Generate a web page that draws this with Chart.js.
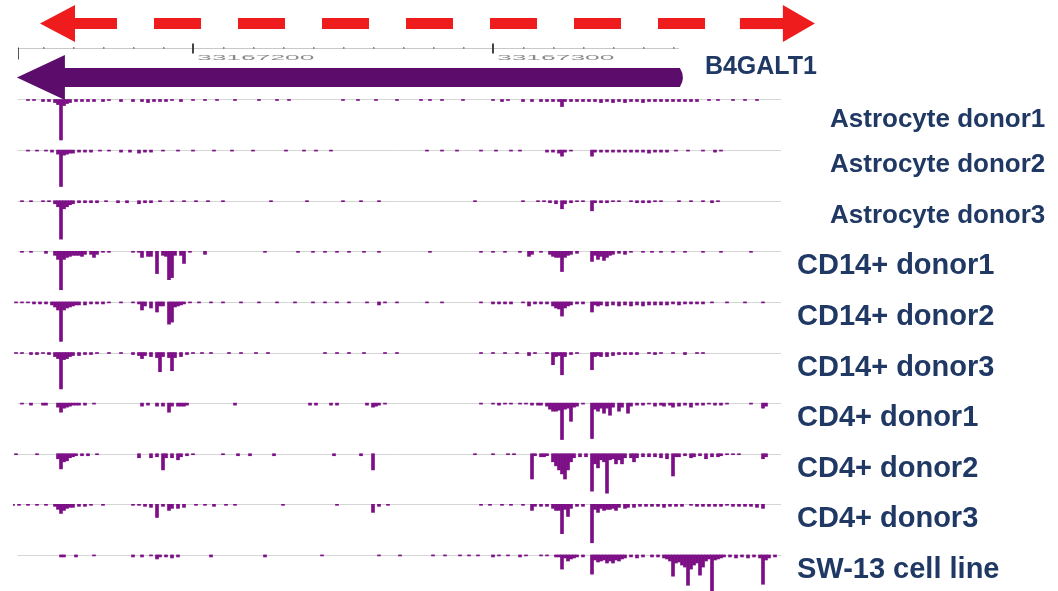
<!DOCTYPE html>
<html>
<head>
<meta charset="utf-8">
<script src="https://cdn.jsdelivr.net/npm/chart.js@4.4.0/dist/chart.umd.min.js"></script>
<style>
  html, body { margin: 0; padding: 0; background: #fff; }
  #wrap { width: 1058px; height: 591px; }
</style>
</head>
<body>
<div id="wrap"><canvas id="tracks" width="1058" height="591"></canvas></div>
<script>
// positions are bp offsets from chr9:33,167,000, signal is read depth (50 = one track height)
const trackNames = ['Astrocyte donor1', 'Astrocyte donor2', 'Astrocyte donor3',
  'CD14+ donor1', 'CD14+ donor2', 'CD14+ donor3',
  'CD4+ donor1', 'CD4+ donor2', 'CD4+ donor3', 'SW-13 cell line'];

const astro1 = [[145,1],[147,1],[150,2],[152,2],[154,3],[155,5],[156,40],[157,6],[158,4],[159,3],[161,2],[163,2],[165,2],[167,2],[170,2],[172,1],[176,2],[180,2],[183,2],[185,3],[187,2],[189,2],[191,2],[193,1],[196,2],[200,1],[204,1],[208,1],[214,1],[222,1],[228,1],[232,1],[250,1],[255,1],[261,1],[268,1],[276,1],[279,1],[283,1],[290,1],[300,1],[303,2],[305,1],[310,2],[313,2],[316,2],[318,2],[320,2],[322,2],[323,7],[324,2],[326,2],[328,2],[330,2],[332,2],[334,2],[336,3],[338,2],[340,3],[342,2],[344,3],[346,2],[348,2],[350,3],[352,2],[354,2],[356,2],[358,2],[360,2],[362,2],[364,2],[366,2],[368,2],[372,1],[375,1],[380,1],[384,1],[388,1]];
const astro2 = [[145,1],[148,1],[151,1],[153,2],[155,4],[156,36],[157,5],[158,4],[159,3],[160,3],[162,2],[164,2],[166,2],[169,1],[172,1],[176,2],[179,2],[182,3],[184,2],[186,2],[190,1],[195,1],[200,1],[207,1],[213,1],[220,1],[231,1],[237,1],[241,1],[246,1],[278,1],[283,1],[288,1],[296,1],[301,1],[306,1],[309,1],[318,2],[320,2],[322,3],[323,6],[324,2],[326,1],[333,6],[334,2],[336,2],[338,2],[340,2],[342,2],[344,2],[346,2],[348,2],[350,2],[352,3],[354,2],[356,2],[358,2],[361,1],[365,1],[370,1],[374,2],[376,1]];
const astro3 = [[143,1],[146,1],[150,1],[152,1],[154,3],[155,6],[156,38],[157,8],[158,6],[159,4],[160,3],[162,2],[164,2],[166,2],[168,2],[171,1],[175,2],[178,2],[182,3],[184,2],[186,2],[189,1],[193,1],[197,1],[201,1],[205,1],[210,1],[226,1],[238,1],[250,1],[256,1],[262,1],[294,1],[310,1],[315,1],[317,1],[319,2],[321,3],[323,8],[324,3],[326,2],[328,1],[330,1],[333,10],[334,2],[336,2],[338,2],[340,1],[342,1],[346,1],[348,2],[350,2],[352,2],[354,1],[356,1],[362,1],[366,1],[370,1],[373,2],[375,1]];
const cd14d1 = [[143,1],[146,1],[151,2],[154,4],[155,8],[156,38],[157,8],[158,6],[159,5],[160,4],[161,4],[162,4],[163,5],[164,3],[166,3],[167,6],[168,3],[170,1],[172,1],[180,1],[182,1],[183,6],[185,5],[186,5],[188,22],[190,4],[191,5],[192,28],[193,26],[194,4],[196,4],[197,12],[199,1],[204,3],[224,1],[235,1],[240,1],[244,1],[248,1],[252,1],[257,1],[262,1],[279,1],[296,1],[300,1],[304,1],[309,1],[312,5],[313,3],[316,1],[319,3],[320,5],[321,6],[322,6],[323,20],[324,6],[325,4],[326,3],[328,2],[333,10],[334,4],[335,8],[336,5],[337,9],[338,6],[339,4],[340,3],[342,2],[344,3],[346,1],[350,1],[353,1],[356,1],[360,1],[364,1],[370,1],[376,1],[386,1]];
const cd14d2 = [[141,1],[143,1],[145,1],[147,2],[149,2],[151,2],[153,3],[154,5],[155,8],[156,39],[157,8],[158,6],[159,5],[160,4],[161,3],[162,3],[164,3],[166,2],[168,2],[170,2],[172,1],[176,1],[180,1],[182,2],[183,8],[184,4],[186,6],[188,10],[189,4],[190,4],[192,22],[193,20],[194,5],[195,4],[196,3],[197,2],[199,1],[202,1],[206,1],[210,1],[216,1],[222,1],[228,1],[234,1],[240,1],[244,1],[248,1],[252,1],[258,1],[262,3],[264,1],[268,1],[278,1],[283,1],[296,1],[300,2],[302,2],[304,2],[306,2],[310,1],[312,4],[314,2],[316,2],[318,2],[320,4],[321,6],[322,7],[323,14],[324,6],[325,4],[326,3],[328,2],[330,2],[333,10],[334,3],[335,4],[336,3],[338,4],[340,3],[342,4],[344,3],[346,4],[348,3],[350,4],[352,3],[354,3],[356,3],[358,3],[360,2],[362,3],[364,2],[366,2],[368,2],[370,2],[373,1],[378,1],[384,1],[390,1]];
const cd14d3 = [[141,1],[143,1],[146,2],[148,2],[150,1],[152,2],[154,4],[155,6],[156,36],[157,7],[158,6],[159,4],[160,3],[162,3],[164,2],[166,2],[168,1],[172,1],[176,1],[180,2],[182,3],[183,6],[184,3],[186,4],[188,5],[189,19],[190,4],[192,5],[193,18],[194,5],[196,4],[198,2],[200,1],[203,1],[206,1],[212,1],[216,1],[221,1],[225,1],[244,1],[248,1],[252,1],[257,1],[264,1],[268,1],[296,1],[300,1],[304,1],[308,1],[312,3],[314,1],[318,1],[320,12],[321,4],[322,3],[323,22],[324,4],[326,2],[328,1],[333,17],[334,4],[335,3],[336,4],[338,4],[340,3],[342,2],[344,2],[346,2],[348,2],[352,1],[354,2],[356,1],[360,1],[364,2],[368,1],[370,1]];
const cd4d1 = [[143,1],[146,2],[150,2],[151,2],[155,4],[156,9],[157,5],[158,4],[159,3],[160,2],[161,2],[162,2],[164,2],[167,1],[183,3],[185,2],[188,3],[190,3],[192,9],[193,3],[195,3],[196,3],[197,3],[198,2],[214,2],[239,2],[241,2],[246,2],[248,2],[258,2],[260,4],[261,3],[262,2],[264,1],[296,1],[300,1],[302,2],[304,1],[306,1],[309,1],[311,1],[313,2],[315,2],[316,2],[318,3],[319,6],[320,8],[321,8],[322,7],[323,36],[324,6],[325,5],[326,18],[327,4],[328,3],[330,1],[333,35],[334,6],[335,8],[336,5],[337,10],[338,5],[339,12],[340,4],[342,8],[343,4],[345,10],[346,3],[348,2],[350,2],[352,1],[354,3],[356,2],[357,3],[359,2],[360,4],[362,3],[364,2],[366,4],[368,2],[370,2],[372,1],[374,2],[376,2],[378,1],[386,1],[390,5],[391,3]];
const cd4d2 = [[141,1],[148,1],[155,5],[156,15],[157,8],[158,7],[159,4],[160,3],[161,2],[163,2],[165,2],[168,1],[182,4],[186,4],[188,3],[190,16],[191,4],[193,4],[195,6],[196,3],[198,2],[200,1],[210,1],[215,2],[219,2],[227,2],[247,2],[256,2],[260,16],[294,1],[300,1],[305,1],[307,1],[313,25],[314,2],[316,3],[317,3],[318,2],[320,8],[321,12],[322,16],[323,20],[324,25],[325,16],[326,8],[327,4],[329,3],[331,3],[333,37],[334,10],[335,14],[336,6],[337,8],[338,39],[339,6],[340,5],[341,10],[342,6],[343,10],[344,4],[346,4],[347,8],[348,4],[350,3],[352,3],[354,3],[356,4],[358,5],[360,22],[361,3],[362,3],[364,2],[366,4],[367,3],[369,2],[371,5],[373,3],[375,3],[376,2],[378,1],[380,1],[382,1],[390,5],[391,3]];
const cd4d3 = [[140,1],[142,1],[145,1],[148,1],[151,1],[154,2],[155,5],[156,9],[157,6],[158,4],[159,3],[160,3],[162,2],[164,2],[166,1],[170,1],[180,1],[182,1],[184,2],[186,3],[188,13],[190,2],[192,6],[193,4],[195,4],[197,3],[201,1],[204,1],[207,2],[211,1],[214,1],[230,1],[248,1],[260,8],[262,2],[265,1],[296,1],[299,1],[303,1],[306,1],[310,1],[313,6],[314,2],[316,2],[318,2],[320,4],[321,6],[322,6],[323,29],[324,5],[325,12],[326,4],[328,2],[330,2],[333,38],[334,5],[335,8],[336,4],[337,6],[338,5],[339,5],[340,4],[341,6],[342,3],[344,4],[345,3],[347,3],[349,2],[351,2],[353,2],[355,2],[357,3],[359,2],[361,2],[363,2],[366,1],[368,2],[370,2],[372,2],[374,2],[376,2],[378,1],[380,2],[382,2],[384,2],[386,2],[388,3],[390,4]];
const sw13 = [[156,2],[157,2],[161,2],[167,1],[180,2],[183,2],[186,1],[188,4],[189,2],[191,2],[193,3],[195,2],[206,2],[224,2],[243,1],[262,1],[269,1],[280,1],[284,1],[289,1],[292,1],[295,1],[300,2],[302,1],[305,1],[309,2],[311,1],[316,1],[318,1],[321,2],[322,2],[323,14],[324,3],[325,6],[326,4],[327,3],[328,2],[330,2],[333,19],[334,5],[335,7],[336,6],[337,5],[338,8],[339,6],[340,8],[341,5],[342,6],[343,4],[344,3],[346,2],[348,3],[350,2],[353,2],[355,2],[357,3],[358,4],[359,6],[360,21],[361,8],[362,7],[363,10],[364,12],[365,30],[366,14],[367,10],[368,8],[369,20],[370,12],[371,6],[372,4],[373,36],[374,5],[375,4],[376,3],[377,2],[379,2],[381,3],[383,2],[385,3],[387,2],[389,3],[390,29],[391,5],[392,3],[394,2]];

const tracks = [astro1, astro2, astro3, cd14d1, cd14d2, cd14d3, cd4d1, cd4d2, cd4d3, sw13];
const signalPerTrack = 50;

// ruler and gene model
const rulerMinor = [150, 160, 170, 180, 190, 210, 220, 230, 240, 250, 260, 270, 280, 290, 310, 320, 330, 340, 350, 360];
const rulerMajor = [200, 300];
const rulerLabels = ['33167200', '33167300'];
const rulerSpan = [141.5, 362];
const geneName = 'B4GALT1';
const geneTip = 141.3;      // 5' end (minus strand, arrow points left)
const geneHeadBase = 157.3;
const geneEnd = 363.3;
const strandSpan = [149, 407.3];

const navy = '#1f3864';
const signalColor = '#7c0f86';

const datasets = tracks.map((t, i) => ({
  label: trackNames[i],
  data: t.map(([pos, s]) => ({ x: pos, y: [i, i + s / signalPerTrack] })),
  backgroundColor: signalColor,
  borderWidth: 0,
  grouped: false,
  barThickness: 3
}));

const browserDecor = {
  id: 'browserDecor',
  beforeDatasetsDraw(chart) {
    const { ctx, scales: { x, y } } = chart;
    ctx.save();
    // track baselines
    ctx.strokeStyle = '#d6d6d6';
    ctx.lineWidth = 1;
    tracks.forEach((t, i) => {
      const py = Math.round(y.getPixelForValue(i)) + 0.5;
      ctx.beginPath();
      ctx.moveTo(x.getPixelForValue(141.5), py);
      ctx.lineTo(x.getPixelForValue(396), py);
      ctx.stroke();
    });

    // strand arrow (red, dashed, both ways)
    const sy = y.getPixelForValue(-1.5);
    const l0 = x.getPixelForValue(strandSpan[0]), l1 = l0 + 35;
    const r1 = x.getPixelForValue(strandSpan[1]), r0 = r1 - 32;
    ctx.fillStyle = '#ee1c1c';
    ctx.strokeStyle = '#ee1c1c';
    ctx.lineWidth = 11;
    ctx.setLineDash([47, 37]);
    ctx.beginPath();
    ctx.moveTo(l1 - 5, sy);
    ctx.lineTo(r0 + 2, sy);
    ctx.stroke();
    ctx.setLineDash([]);
    ctx.beginPath();
    ctx.moveTo(l0, sy); ctx.lineTo(l1, sy - 18.5); ctx.lineTo(l1, sy + 18.5); ctx.closePath();
    ctx.fill();
    ctx.beginPath();
    ctx.moveTo(r1, sy); ctx.lineTo(r0, sy - 18.5); ctx.lineTo(r0, sy + 18.5); ctx.closePath();
    ctx.fill();
    ctx.fillRect(r0 - 43, sy - 5.5, 44, 11);

    // coordinate ruler
    const ry = Math.round(y.getPixelForValue(-1.02)) + 0.5;
    ctx.strokeStyle = '#c8c8c8';
    ctx.lineWidth = 1;
    ctx.beginPath();
    ctx.moveTo(x.getPixelForValue(rulerSpan[0]), ry);
    ctx.lineTo(x.getPixelForValue(rulerSpan[1]), ry);
    ctx.stroke();
    ctx.fillStyle = '#888';
    rulerMinor.forEach(p => ctx.fillRect(Math.round(x.getPixelForValue(p)), ry - 1.5, 1.5, 2));
    ctx.fillStyle = '#555';
    ctx.fillRect(Math.round(x.getPixelForValue(rulerSpan[0])), ry - 1, 1, 12);
    rulerMajor.forEach((p, k) => {
      const px = Math.round(x.getPixelForValue(p));
      ctx.fillStyle = '#444';
      ctx.fillRect(px - 1, ry - 5, 2, 10);
      ctx.save();
      ctx.translate(px + 4, ry + 10);
      ctx.scale(3.3, 0.9);
      ctx.font = '8px "Liberation Sans", Arial, sans-serif';
      ctx.fillStyle = '#8a8a8a';
      ctx.textBaseline = 'middle';
      ctx.fillText(rulerLabels[k], 0, 0);
      ctx.restore();
    });

    // gene model arrow
    const gy = y.getPixelForValue(-0.435);
    const gTip = x.getPixelForValue(geneTip);
    const gBase = x.getPixelForValue(geneHeadBase);
    const gEnd = x.getPixelForValue(geneEnd);
    ctx.fillStyle = '#5c0d6c';
    ctx.beginPath();
    ctx.moveTo(gTip, gy);
    ctx.lineTo(gBase, gy - 22.5);
    ctx.lineTo(gBase, gy - 9.5);
    ctx.lineTo(gEnd - 3, gy - 9.5);
    ctx.quadraticCurveTo(gEnd + 3, gy, gEnd - 3, gy + 9.5);
    ctx.lineTo(gBase, gy + 9.5);
    ctx.lineTo(gBase, gy + 22.5);
    ctx.closePath();
    ctx.fill();
    ctx.restore();
  },
  afterDatasetsDraw(chart) {
    const { ctx, chartArea, scales: { x, y } } = chart;
    ctx.save();
    ctx.fillStyle = navy;
    ctx.textBaseline = 'middle';
    ctx.font = 'bold 25px "Liberation Sans", Arial, sans-serif';
    ctx.fillText(geneName, x.getPixelForValue(geneEnd) + 22, y.getPixelForValue(-0.64), 113);
    trackNames.forEach((name, i) => {
      const astro = name.startsWith('Astrocyte');
      ctx.font = astro ? 'bold 26px "Liberation Sans", Arial, sans-serif'
                       : 'bold 29px "Liberation Sans", Arial, sans-serif';
      const lx = chartArea.right + (astro ? 37 : 4);
      ctx.fillText(name, lx, y.getPixelForValue(i + (i === 0 ? 0.4 : 0.3)));
    });
    ctx.restore();
  }
};

new Chart(document.getElementById('tracks').getContext('2d'), {
  type: 'bar',
  data: { datasets: datasets },
  options: {
    responsive: false,
    animation: false,
    devicePixelRatio: 1,
    layout: { padding: { left: 13, right: 265, top: 0, bottom: 0 } },
    scales: {
      x: { type: 'linear', min: 140, max: 400, offset: false, display: false },
      y: { type: 'linear', min: -1.966, max: 9.713, reverse: true, display: false }
    },
    plugins: {
      legend: { display: false },
      tooltip: { enabled: false }
    }
  },
  plugins: [browserDecor]
});
</script>
</body>
</html>
